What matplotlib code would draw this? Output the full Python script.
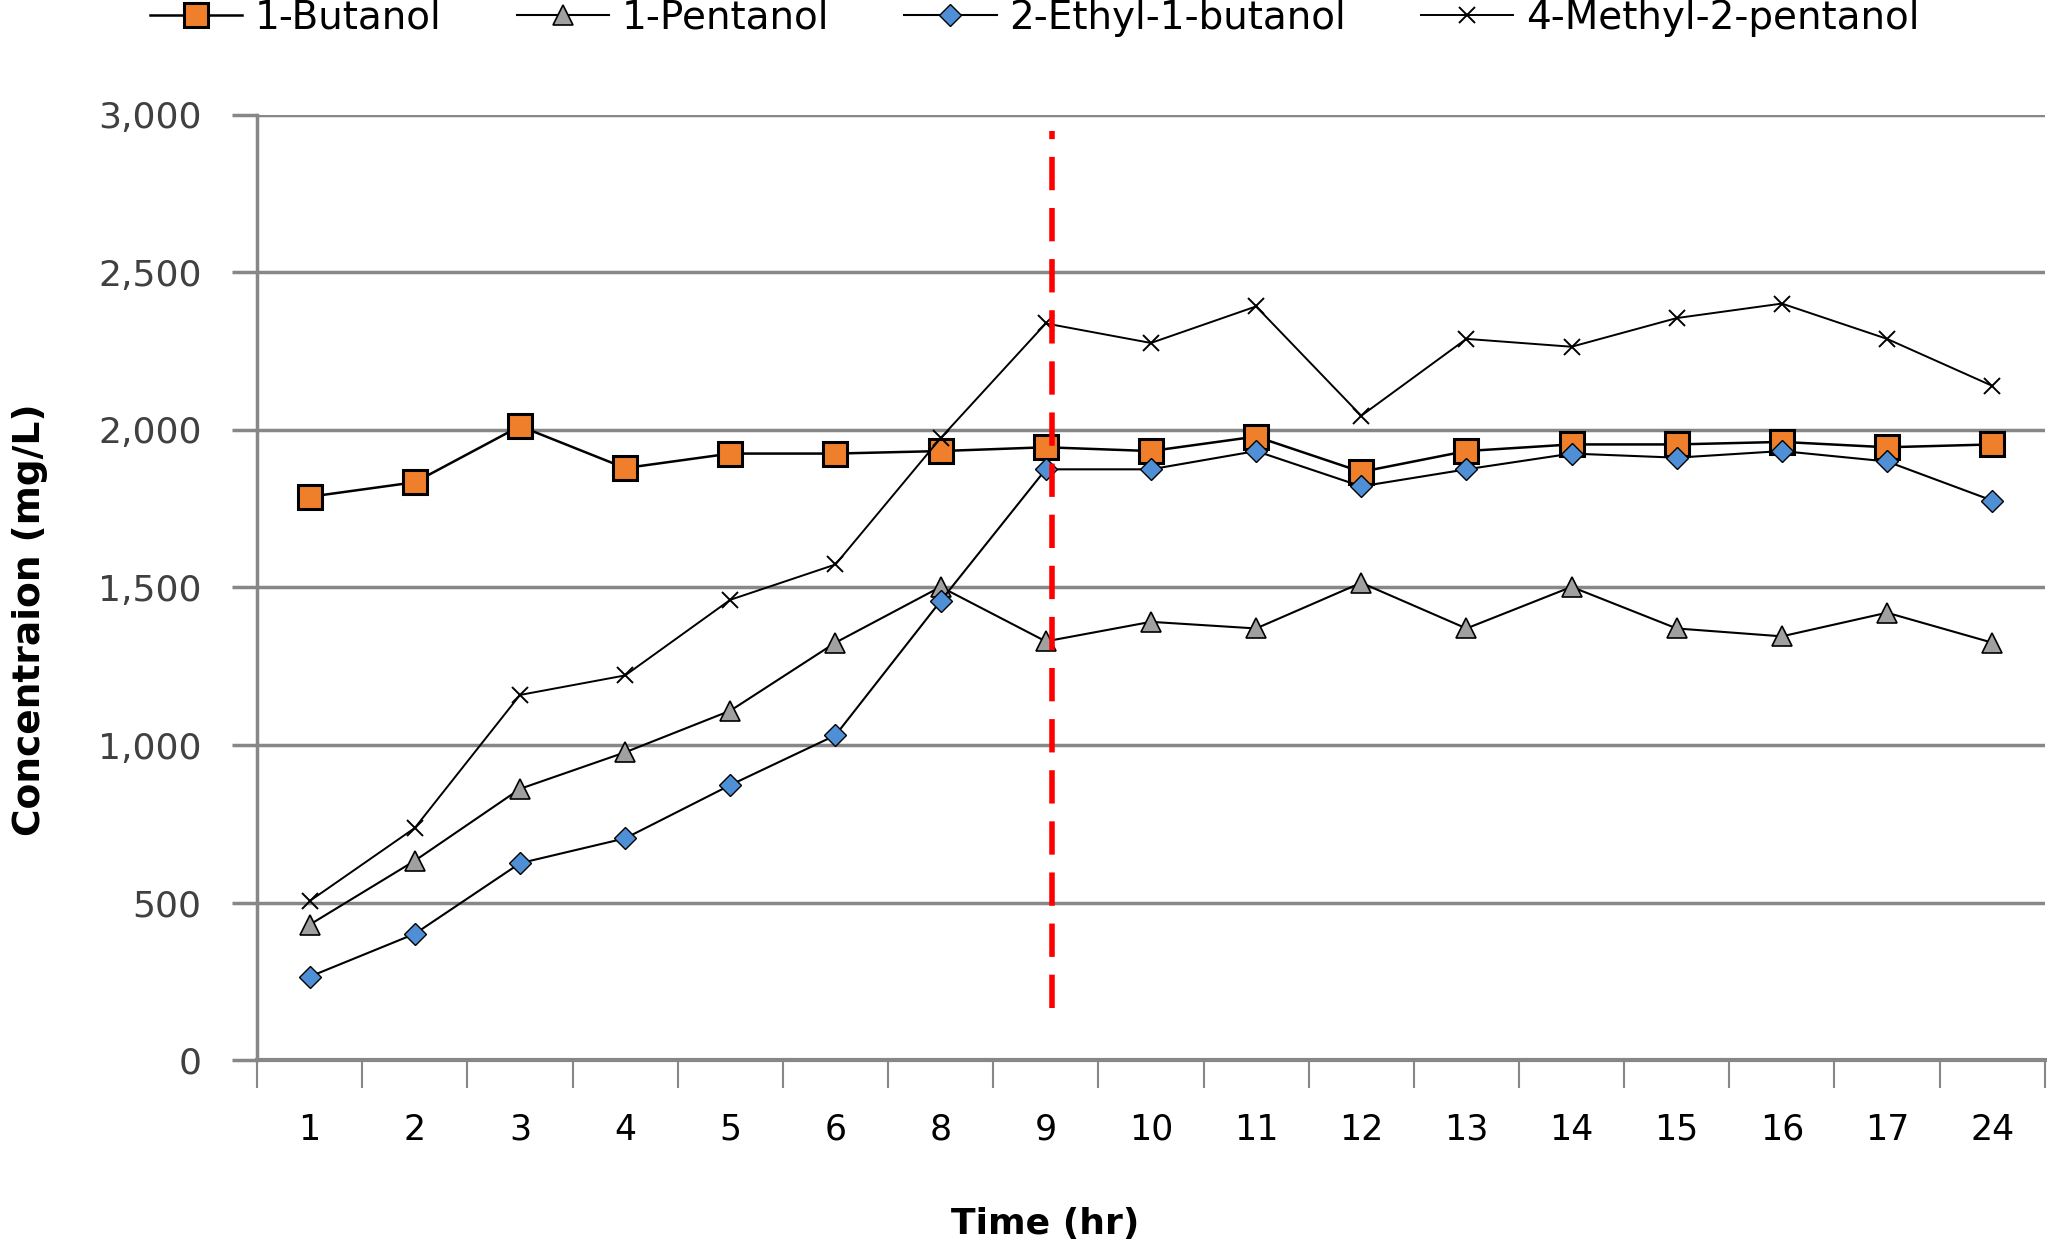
import numpy as np
import matplotlib
matplotlib.use("Agg")
import matplotlib.pyplot as plt
from matplotlib.ticker import FuncFormatter

# ── Data ──────────────────────────────────────────────────────────────
hours = ['1', '2', '3', '4', '5', '6', '8', '9', '10', '11', '12', '13', '14', '15', '16', '17', '24']

butanol = [1788, 1834, 2012, 1879, 1925, 1925, 1933, 1945, 1933, 1979,
           1867, 1933, 1954, 1954, 1962, 1945, 1954]
pentanol = [430, 633, 861, 977, 1109, 1325, 1502, 1329, 1391, 1370,
            1515, 1370, 1502, 1370, 1345, 1420, 1325]
ethyl_butanol = [265, 401, 625, 704, 873, 1031, 1457, 1875, 1875, 1933,
                 1821, 1875, 1925, 1912, 1933, 1900, 1776]
methyl_pentanol = [505, 737, 1159, 1221, 1461, 1573, 1974, 2338, 2276, 2392,
                   2045, 2289, 2264, 2355, 2401, 2289, 2140]

# red dashed marker line (category position, y range)
marker_pos = 7.06
marker_y = [165, 2950]

# ── Plot ──────────────────────────────────────────────────────────────
fig = plt.figure(figsize=(20.47, 12.48), dpi=100)
ax = fig.add_axes([0.1256, 0.1505, 0.8733, 0.7575])

x = np.arange(len(hours))
grid_col = '#878787'

ax.plot(x, butanol, color='black', linewidth=1.8, marker='s', markersize=17,
        markerfacecolor='#F07F2C', markeredgecolor='black', markeredgewidth=2.2,
        label='1-Butanol', zorder=3)
ax.plot(x, pentanol, color='black', linewidth=1.5, marker='^', markersize=14,
        markerfacecolor='#A0A0A0', markeredgecolor='black', markeredgewidth=1.2,
        label='1-Pentanol', zorder=3)
ax.plot(x, ethyl_butanol, color='black', linewidth=1.5, marker='D', markersize=11,
        markerfacecolor='#4F8FD6', markeredgecolor='black', markeredgewidth=1.0,
        label='2-Ethyl-1-butanol', zorder=4)
ax.plot(x, methyl_pentanol, color='black', linewidth=1.4, marker='x', markersize=12,
        markeredgewidth=1.4, label='4-Methyl-2-pentanol', zorder=3)

ax.plot([marker_pos, marker_pos], marker_y, color='#FF0000', linewidth=4,
        linestyle=(0, (6, 3.2)), zorder=5)

# axes styling
ax.set_xlim(-0.5, len(hours) - 0.5)
ax.set_ylim(0, 3000)
ax.set_yticks(np.arange(0, 3001, 500))
ax.yaxis.set_major_formatter(FuncFormatter(lambda v, p: f'{int(v):,}'))
ax.set_xticks(x)
ax.set_xticklabels(hours)
ax.set_xticks(np.arange(-0.5, len(hours)), minor=True)
ax.tick_params(axis='x', which='major', length=0, pad=38, labelsize=25, labelcolor='black')
ax.tick_params(axis='x', which='minor', length=20, width=1.5, color=grid_col)
ax.tick_params(axis='y', length=18, width=2.5, color=grid_col, pad=22,
               labelsize=26, labelcolor='#404040')

ax.grid(True, axis='y', color=grid_col, linewidth=2.5, zorder=0)
ax.set_axisbelow(True)
for s in ['top', 'right']:
    ax.spines[s].set_visible(False)
ax.spines['left'].set_color(grid_col)
ax.spines['left'].set_linewidth(2.5)
ax.spines['bottom'].set_color(grid_col)
ax.spines['bottom'].set_linewidth(3)

ax.set_ylabel('Concentraion (mg/L)', fontsize=27, fontweight='bold')
ax.yaxis.set_label_coords(-0.117, 0.466)
ax.set_xlabel('Time (hr)', fontsize=26, fontweight='bold')
ax.xaxis.set_label_coords(0.441, -0.155)

fig.legend(loc='center left', bbox_to_anchor=(0.0733, 0.9856), ncol=4, frameon=False,
           fontsize=28, handlelength=2.37, handletextpad=0.33, columnspacing=1.93,
           borderaxespad=0, borderpad=0)

fig.savefig('out.png', dpi=100, facecolor='white')
